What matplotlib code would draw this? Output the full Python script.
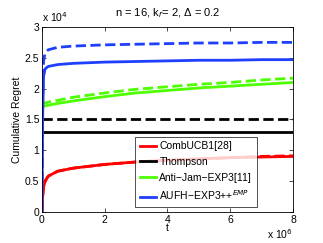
import numpy as np
import matplotlib.pyplot as plt

plt.rcParams['font.family'] = ['Liberation Sans', 'DejaVu Sans']

# time in units of 1e6, regret in units of 1e4
t = np.array([0, 0.02, 0.05, 0.1, 0.2, 0.5, 1, 2, 3, 4, 5, 6, 7, 8])
combucb = np.array([0, 0.25, 0.4, 0.5, 0.58, 0.66, 0.71, 0.77, 0.81, 0.84, 0.86, 0.88, 0.89, 0.9])
combucb_d = np.array([0, 0.25, 0.4, 0.5, 0.58, 0.66, 0.71, 0.77, 0.81, 0.84, 0.86, 0.88, 0.9, 0.91])
thompson = np.array([1.3] * 14)
thompson_d = np.array([1.5] * 14)
antijam = np.array([1.68, 1.7, 1.71, 1.72, 1.73, 1.76, 1.8, 1.87, 1.93, 1.97, 2.01, 2.04, 2.07, 2.1])
antijam_d = np.array([1.73, 1.75, 1.76, 1.77, 1.78, 1.81, 1.86, 1.93, 1.99, 2.03, 2.07, 2.1, 2.14, 2.17])
aufh = np.array([0, 1.5, 2.2, 2.32, 2.36, 2.39, 2.41, 2.43, 2.44, 2.45, 2.46, 2.46, 2.47, 2.47])
aufh_d = np.array([0, 1.8, 2.45, 2.58, 2.63, 2.67, 2.69, 2.71, 2.72, 2.73, 2.74, 2.74, 2.75, 2.75])

fs = 7.5
fig = plt.figure(figsize=(3.23, 2.43), dpi=100)
ax = fig.add_axes([0.130, 0.128, 0.777, 0.761])

lw = 2
ax.plot(t, combucb_d, color='red', lw=lw, ls='--')
ax.plot(t, thompson_d, color='black', lw=lw, ls='--')
ax.plot(t, antijam_d, color='#4dff00', lw=lw, ls='--')
ax.plot(t, aufh_d, color='#1f3fff', lw=lw, ls='--')
l1, = ax.plot(t, combucb, color='red', lw=lw)
l2, = ax.plot(t, thompson, color='black', lw=lw)
l3, = ax.plot(t, antijam, color='#4dff00', lw=lw)
l4, = ax.plot(t, aufh, color='#1f3fff', lw=lw)

ax.set_xlim(0, 8)
ax.set_ylim(0, 3)
ax.set_xticks([0, 2, 4, 6, 8])
ax.set_yticks([0, 0.5, 1, 1.5, 2, 2.5, 3])
ax.set_yticklabels(['0', '0.5', '1', '1.5', '2', '2.5', '3'])
ax.tick_params(direction='in', labelsize=fs, length=3, width=0.5, pad=2, top=True, right=True)
for s in ax.spines.values():
    s.set_linewidth(0.6)

ax.set_xlabel('t', fontsize=fs, labelpad=-1)
ax.set_ylabel('Cumulative Regret', fontsize=fs, labelpad=2)
ax.set_title('n = 16, k$_r$= 2, \u0394 = 0.2', fontsize=8, pad=8)
ax.text(0, 1.015, 'x 10$^4$', transform=ax.transAxes, fontsize=fs, va='bottom', ha='left')
ax.text(1.0, -0.085, 'x 10$^6$', transform=ax.transAxes, fontsize=fs, va='top', ha='right')

leg = ax.legend([l1, l2, l3, l4],
                ['CombUCB1[28]', 'Thompson', 'Anti\u2212Jam\u2212EXP3[11]', 'AUFH\u2212EXP3++$^{EMP}$'],
                loc='lower left', bbox_to_anchor=(0.37, 0.027), fontsize=fs,
                frameon=True, fancybox=False, edgecolor='black', handlelength=1.6,
                handletextpad=0.3, borderpad=0.45, labelspacing=0.55, borderaxespad=0)
leg.get_frame().set_linewidth(0.6)

fig.savefig('out.png', dpi=100)
